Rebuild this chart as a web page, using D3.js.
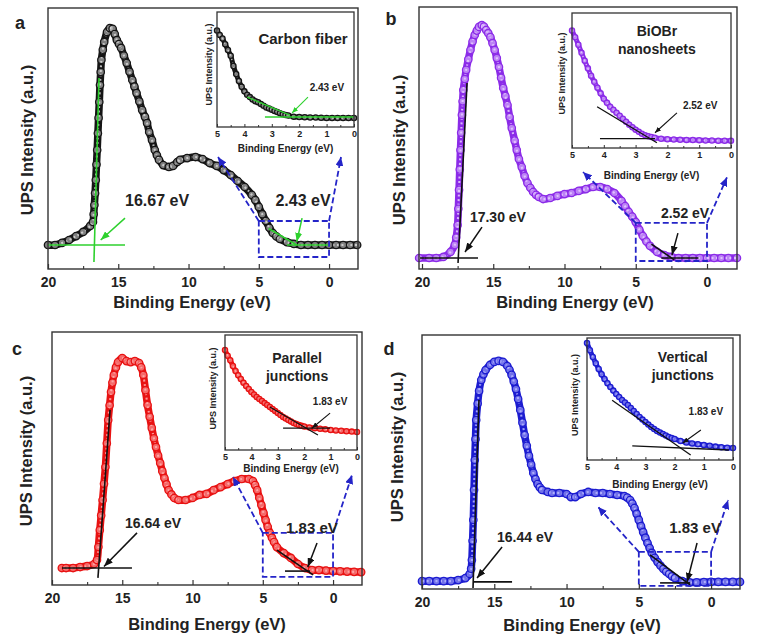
<!DOCTYPE html>
<html><head><meta charset="utf-8">
<script src="https://cdn.jsdelivr.net/npm/d3@7"></script>
<style>
body{margin:0;background:#fff}
text{font-family:"Liberation Sans",Arial,Helvetica,sans-serif;font-weight:bold;fill:#222}
</style>
</head><body>
<svg id="chart" width="774" height="637"></svg>
<script>
// ---------------- data (binding energy eV, intensity a.u.) ----------------
const panelLetters = ["a", "b", "c", "d"];
const insetTitles = [["Carbon fiber"], ["BiOBr", "nanosheets"], ["Parallel", "junctions"], ["Vertical", "junctions"]];
const cutoffLabels = ["16.67 eV", "17.30 eV", "16.64 eV", "16.44 eV"];
const onsetLabels = ["2.43 eV", "2.52 eV", "1.83 eV", "1.83 eV"];
const mainTicks = [20, 15, 10, 5, 0];
const mainMinorTicks = [17.5, 12.5, 7.5, 2.5];
const insetTicks = [5, 4, 3, 2, 1, 0];
const insetMinorTicks = [4.5, 3.5, 2.5, 1.5, 0.5];

const carbonMain = [[20,9.2],[19.5,9.2],[19,10],[18.5,11.1],[18,12.6],[17.5,14.2],[17,16.5],[16.8,18],[16.75,21],[16.7,24.5],[16.65,29],[16.6,34.1],[16.55,40],[16.5,45.6],[16.45,52],[16.4,57.9],[16.35,64],[16.3,70.5],[16.25,75.5],[16.2,80.1],[16.1,84],[16,87],[15.8,90.8],[15.6,92.3],[15.4,92],[15.25,90],[15.1,87.7],[14.95,86.2],[14.8,84.7],[14.6,81.8],[14.4,78.9],[14.2,75.6],[14,72.4],[13.85,69.9],[13.7,67.4],[13.5,64.2],[13.3,60.9],[13.1,58.3],[12.95,55.9],[12.8,52.5],[12.6,49.4],[12.4,45.6],[12.25,43.6],[12.1,41.8],[11.8,39.8],[11.4,39.1],[11.1,39.5],[10.8,41],[10.6,41.8],[10.1,42.5],[9.5,42.9],[9,42.1],[8.5,40.6],[8,39.5],[7.5,37.9],[7,36],[6.5,33.7],[6,31.4],[5.5,28.4],[5.25,26.4],[5,23.8],[4.75,21],[4.5,18.4],[4.25,15.8],[4,13.8],[3.75,12.5],[3.5,11.5],[3,10.3],[2.5,9.6],[2,9.2],[1.5,9.2],[1,9.2],[0.5,9.2],[0,9.2],[-0.5,9.2],[-1,9.2],[-1.5,9.2],[-2,9.2]];
const biobrMain = [[20.2,4.2],[19.5,4.2],[19,4.2],[18.5,4.6],[18,6.5],[17.7,9.2],[17.6,12],[17.5,16.8],[17.45,23],[17.4,30.2],[17.35,38],[17.3,45.4],[17.25,52],[17.2,58.8],[17.15,64],[17.1,68.3],[17,72.5],[16.9,76],[16.75,80],[16.6,83.6],[16.45,86.8],[16.3,89.3],[16.15,91],[16,92.4],[15.8,93.1],[15.65,92.5],[15.5,91.2],[15.35,90],[15.2,88.5],[15.05,86.2],[14.9,83.6],[14.75,80.5],[14.6,77.1],[14.45,73],[14.3,69.1],[14.15,66],[14,62.6],[13.85,58],[13.7,53.8],[13.5,49],[13.35,45.4],[13.2,42],[13,38.9],[12.8,35.5],[12.6,32.8],[12.4,31],[12.2,29.4],[12,28.3],[11.8,27.5],[11.5,26.7],[11,27.1],[10.5,27.9],[10,28.6],[9.5,29],[9,29.8],[8.5,30.5],[8,31.3],[7.5,31.3],[7,30.5],[6.5,29],[6,26],[5.75,24],[5.5,21.8],[5.25,20],[5,17.9],[4.75,15],[4.5,12.6],[4.25,10.5],[4,8.8],[3.5,6.5],[3,5.3],[2.5,4.6],[2,4.2],[1.5,4.2],[1,4.2],[0.5,4.2],[0,4.2],[-0.5,4.2],[-1,4.2],[-1.5,4.2],[-2.1,4.2]];
const parallelMain = [[19.3,6.7],[19,6.7],[18.5,6.7],[18,7.1],[17.5,7.5],[17,8.3],[16.8,9.9],[16.7,15],[16.6,21.7],[16.5,27.5],[16.4,33.6],[16.3,40],[16.2,46.6],[16.1,56],[16,65.2],[15.9,71],[15.8,76.3],[15.7,80],[15.6,83],[15.45,86],[15.3,88.1],[15,89.7],[14.7,88.5],[14.4,88.1],[14.1,88.5],[13.8,87.7],[13.65,86],[13.5,83],[13.35,77],[13.2,71.1],[13.05,66.5],[12.9,62.1],[12.75,58],[12.6,54.5],[12.45,51.2],[12.3,48.2],[12.15,45],[12,42.3],[11.85,39.8],[11.7,37.5],[11.5,35.8],[11.3,34.4],[11,33.6],[10.5,33.6],[10,34.4],[9.5,35.6],[9,36],[8.5,37.5],[8,38.7],[7.5,39.9],[7,41.1],[6.5,41.9],[6,41.9],[5.7,41.1],[5.55,39.5],[5.4,37.5],[5.25,34.5],[5.1,31.6],[4.95,28.5],[4.8,25.7],[4.65,23],[4.5,20.6],[4.35,18.7],[4.2,17],[4,15],[3.5,12.6],[3,10.7],[2.5,8.3],[2,6.7],[1.5,5.9],[1,5.9],[0.5,5.7],[0,5.5],[-0.5,5.4],[-1,5.3],[-1.5,5.2],[-2,5.1]];
const verticalMain = [[20,3.1],[19.5,3.1],[19,3.1],[18.5,3.1],[18,3.1],[17.5,3.5],[17,4.3],[16.7,5.9],[16.6,8],[16.55,11.4],[16.5,19],[16.45,27.2],[16.4,39],[16.35,50.8],[16.3,59],[16.25,66.5],[16.15,73],[16.05,78],[15.9,82.3],[15.75,84.5],[15.6,86.2],[15.3,88.2],[15,89.4],[14.7,89.8],[14.4,89.4],[14.1,87.8],[13.95,86.3],[13.8,84.3],[13.65,81.7],[13.5,78.7],[13.35,74.8],[13.2,70.5],[13.05,65.5],[12.9,60.6],[12.75,56.4],[12.6,52.4],[12.45,49],[12.3,45.7],[12.15,43.3],[12,41.3],[11.85,40],[11.7,39],[11.3,38.2],[11,37.8],[10.5,37.8],[10,37.4],[9.7,36.2],[9.4,36.2],[9,37.4],[8.5,38.2],[8,37.8],[7.5,37.8],[7,37.4],[6.5,37],[6,36.6],[5.8,36],[5.6,35],[5.45,33.6],[5.3,31.9],[5.15,29.6],[5,27.2],[4.85,24.8],[4.7,22.4],[4.55,20.2],[4.4,18.1],[4.25,16.1],[4.1,14.2],[3.9,12.3],[3.7,10.6],[3.5,9.2],[3.3,7.9],[3.1,6.8],[2.9,5.9],[2.7,5],[2.5,4.3],[2,3.1],[1.5,2.6],[1,2.6],[0.5,2.7],[0,2.8],[-0.5,2.8],[-1,2.8],[-1.5,2.8],[-2,2.8]];

const carbonInset = [[5,84],[4.9,80],[4.8,77],[4.7,72],[4.6,67],[4.5,62],[4.4,53],[4.3,46],[4.2,40],[4.1,35],[4,31],[3.9,28],[3.8,26],[3.7,24],[3.6,22.5],[3.5,21.5],[3.4,20],[3.3,18.5],[3.2,17],[3.1,16],[3,15],[2.9,14],[2.8,13],[2.7,12],[2.6,11],[2.5,10.5],[2.4,10],[2.2,9],[2,8.7],[1.8,8.5],[1.6,8.3],[1.4,8.2],[1.2,8],[1,7.8],[0.8,7.8],[0.6,7.8],[0.4,7.8],[0.2,7.8],[0,7.8]];
const biobrInset = [[5,87],[4.9,82],[4.8,76.5],[4.7,70.5],[4.6,64.7],[4.5,59],[4.4,53.6],[4.3,49],[4.2,44.7],[4.1,40.5],[4,36.5],[3.9,33.5],[3.8,30.6],[3.7,28.3],[3.6,26.1],[3.5,23.9],[3.4,21.7],[3.3,19.5],[3.2,17.3],[3.1,15.4],[3,13.6],[2.9,12],[2.8,10.6],[2.7,9.5],[2.6,8.7],[2.5,8.1],[2.4,7.6],[2.2,6.9],[2,6.5],[1.8,6.3],[1.6,6.1],[1.4,6],[1.2,5.9],[1,5.8],[0.8,5.6],[0.6,5.5],[0.4,5.4],[0.2,5.4],[0,5.4]];
const parallelInset = [[5,87],[4.9,82],[4.8,78],[4.7,73],[4.6,68.7],[4.5,65],[4.4,61.7],[4.3,58.5],[4.2,55.7],[4.1,53],[4,50.4],[3.9,48.2],[3.8,46.1],[3.7,44.3],[3.6,42.6],[3.5,40.8],[3.4,39.1],[3.3,37.4],[3.2,35.7],[3.1,34],[3,32.2],[2.9,30.4],[2.8,28.7],[2.7,27.4],[2.6,26.1],[2.5,24.8],[2.4,23.5],[2.3,22.6],[2.2,21.7],[2.1,21],[2,20.4],[1.8,19.6],[1.6,19],[1.4,18.5],[1.2,18],[1,17.4],[0.8,17],[0.6,16.7],[0.4,16.3],[0.2,16],[0,15.7]];
const verticalInset = [[5,95.9],[4.9,90],[4.8,84.4],[4.7,79.3],[4.6,74.6],[4.5,70.3],[4.4,66.4],[4.3,63],[4.2,59.8],[4.1,56.9],[4,54.1],[3.9,51.6],[3.8,49.2],[3.7,47.1],[3.6,45.1],[3.5,42.7],[3.4,40.2],[3.3,37.7],[3.2,35.2],[3.1,33.1],[3,31.1],[2.9,29],[2.8,27],[2.7,25.4],[2.6,23.8],[2.5,22.5],[2.4,21.3],[2.3,20.1],[2.2,18.9],[2.1,18],[2,17.2],[1.8,15.6],[1.6,14.4],[1.4,13.6],[1.2,12.9],[1,12.3],[0.8,11.7],[0.6,11],[0.4,10.5],[0.2,10.1],[0,9.8]];

// ---------------- layout / styling ----------------
const svg = d3.select("#chart");
const BLUE = "#2424c8";
const defs = svg.append("defs");
function marker(id, color, w, h) {
  defs.append("marker").attr("id", id).attr("markerUnits", "userSpaceOnUse")
    .attr("viewBox", `0 0 ${w} ${h}`).attr("refX", w).attr("refY", h / 2)
    .attr("markerWidth", w).attr("markerHeight", h).attr("orient", "auto")
    .append("path").attr("d", `M0,0L${w},${h/2}L0,${h}Z`).attr("fill", color);
}
marker("arGreen", "#2ed12e", 9, 7);
marker("arBlack", "#111", 9, 7);
marker("arBlue", BLUE, 9, 8);
marker("arGreenS", "#2ed12e", 6, 5);
marker("arBlackS", "#111", 6, 5);

const panels = [
  { main: carbonMain, inset: carbonInset, stroke: "#151515", fill: "#d8d8d8", tan: "#2ed12e", ar: "arGreen", arS: "arGreenS",
    f: {x0: 48, x1: 358, y0: 8, y1: 269}, xDom: [20, -2.06],
    fi: {x0: 217, x1: 354, y0: 12, y1: 127},
    letter: [20, 29], ytitle: [27, 140], xtitle: [192, 308], itx: 21, ity: [-8, -5],
    ann: {
      tanMain: [[16.37, 73.2], [16.73, 2.7]], horMain: [[20, 9.2], [14.52, 9.2]], arMain: [[14.52, 19.5], [16.25, 11.1]], labMain: [12.24, 24],
      tanOn: [[4.3, 15.5], [2.3, 9.2]], horOn: [[3.0, 9.2], [0, 9.2]], arOn: [[1.92, 19.5], [2.3, 10.4]], labOn: [1.85, 24],
      box: [[5, 18.4], [0, 4.6]], zoomTo: [[7.9, 42.9], [-0.85, 42.9]],
      tanIn: [[3.9, 26], [2.34, 10.4]], horIn: [[3.25, 8.7], [0, 8.7]], arIn: [[1.68, 26], [2.26, 12.2]], labIn: [0.99, 31],
      title: [1.86, 72]
    }, mainFont: 16, onFont: 16, titleFont: 15 },
  { main: biobrMain, inset: biobrInset, stroke: "#8b2be8", fill: "#e6ccff", tan: "#111", ar: "arBlack", arS: "arBlackS",
    f: {x0: 419, x1: 737, y0: 7, y1: 269}, xDom: [20.21, -2.105],
    fi: {x0: 572, x1: 731, y0: 13, y1: 148},
    letter: [391, 25], ytitle: [399, 150], xtitle: [575, 308], itx: 27, ity: [-10, -7],
    ann: {
      tanMain: [[16.84, 71], [17.47, 2.3]], horMain: [[20.14, 4.2], [16.07, 4.2]], arMain: [[15.79, 16], [16.98, 6.5]], labMain: [14.67, 18],
      tanOn: [[3.9, 9.5], [2.3, 3.5]], horOn: [[3.2, 4.2], [0.6, 4.2]], arOn: [[2.04, 13.7], [2.46, 5.3]], labOn: [1.54, 19.5],
      box: [[5, 17.6], [0, 3.05]], zoomTo: [[8.7, 37], [-1.4, 35]],
      tanIn: [[4.21, 30.6], [2.33, 3.9]], horIn: [[4.12, 6.9], [2.39, 6.9]], arIn: [[1.7, 26], [2.39, 11.3]], labIn: [0.97, 29],
      title: [2.33, 83]
    }, mainFont: 14, onFont: 14, titleFont: 14 },
  { main: parallelMain, inset: parallelInset, stroke: "#e81212", fill: "#ffb0b0", tan: "#111", ar: "arBlack", arS: "arBlackS",
    f: {x0: 52, x1: 362, y0: 332, y1: 585}, xDom: [20, -2.06],
    fi: {x0: 225, x1: 357, y0: 335, y1: 450},
    letter: [17, 355], ytitle: [26, 451], xtitle: [207, 630], itx: 18, ity: [-12, -4],
    ann: {
      tanMain: [[15.87, 69.2], [16.73, 2.8]], horMain: [[19.29, 6.7], [14.31, 6.7]], arMain: [[13.95, 20.6], [16.3, 7.3]], labMain: [12.81, 22.5],
      tanOn: [[3.99, 13.8], [1.42, 4.0]], horOn: [[3.42, 5.5], [1.64, 5.5]], arOn: [[1.14, 16.6], [1.8, 7.1]], labOn: [1.5, 20.5],
      box: [[5, 20.6], [0, 3.2]], zoomTo: [[7.12, 42.7], [-1.35, 43.5]],
      tanIn: [[3.3, 37.4], [1.48, 13]], horIn: [[2.8, 19.1], [1.02, 19.1]], arIn: [[1.02, 32], [1.7, 19.1]], labIn: [1.02, 39],
      title: [2.27, 76]
    }, mainFont: 14, onFont: 15, titleFont: 14 },
  { main: verticalMain, inset: verticalInset, stroke: "#1c1cd0", fill: "#b8b8ff", tan: "#111", ar: "arBlack", arS: "arBlackS",
    f: {x0: 422, x1: 740, y0: 335, y1: 589}, xDom: [20, -2.0],
    fi: {x0: 587, x1: 733, y0: 338, y1: 460},
    letter: [389, 355], ytitle: [397, 447], xtitle: [582, 631], itx: 24, ity: [-12, -4],
    ann: {
      tanMain: [[16.06, 74.4], [16.47, 0.4]], horMain: [[16.47, 2.8], [13.77, 2.8]], arMain: [[14.46, 16.5], [16.19, 4.3]], labMain: [12.87, 18.5],
      tanOn: [[4.22, 13.4], [1.45, 1.6]], horOn: [[3.53, 2.4], [1.45, 2.4]], arOn: [[0.97, 18.1], [1.66, 2.8]], labOn: [1.11, 22],
      box: [[5, 14.6], [0, 1.2]], zoomTo: [[7.82, 32.3], [-1.18, 35]],
      tanIn: [[4.14, 49], [1.45, 4.1]], horIn: [[3.45, 11.5], [0.14, 8.2]], arIn: [[1.1, 24.6], [1.72, 13.9]], labIn: [0.93, 36.5],
      title: [1.72, 80]
    }, mainFont: 14, onFont: 15, titleFont: 14 }
];

function seg(g, x, y, pts, color, width, opts = {}) {
  const l = g.append("line")
    .attr("x1", x(pts[0][0])).attr("y1", y(pts[0][1]))
    .attr("x2", x(pts[1][0])).attr("y2", y(pts[1][1]))
    .attr("stroke", color).attr("stroke-width", width);
  if (opts.dash) l.attr("stroke-dasharray", opts.dash);
  if (opts.marker) l.attr("marker-end", `url(#${opts.marker})`);
  return l;
}

function drawSeries(parent, x, y, data, p, r, bw) {
  const g = parent.append("g");
  const line = d3.line().x(d => x(d[0])).y(d => y(d[1])).curve(d3.curveCatmullRom);
  // dense band of overlapping open markers
  g.append("path").attr("d", line(data)).attr("fill", "none")
    .attr("stroke", p.stroke).attr("stroke-width", bw).attr("stroke-linejoin", "round").attr("stroke-linecap", "round");
  g.append("path").attr("d", line(data)).attr("fill", "none")
    .attr("stroke", p.fill).attr("stroke-width", bw * 0.28).attr("stroke-dasharray", "2,2.5").attr("opacity", 0.85);
  g.selectAll("circle").data(data).join("circle")
    .attr("cx", d => x(d[0])).attr("cy", d => y(d[1])).attr("r", r)
    .attr("fill", p.fill).attr("fill-opacity", 0.55)
    .attr("stroke", p.stroke).attr("stroke-width", 1.3);
}

panels.forEach((p, i) => {
  const g = svg.append("g");
  const a = p.ann;
  // ---------- main plot ----------
  const x = d3.scaleLinear().domain(p.xDom).range([p.f.x0, p.f.x1]);
  const y = d3.scaleLinear().domain([0, 100]).range([p.f.y1, p.f.y0]);

  drawSeries(g, x, y, p.main, p, 3.7, 7.5);

  // tangent construction lines
  seg(g, x, y, a.tanMain, p.tan, 1.6);
  seg(g, x, y, a.horMain, p.tan, 1.6);
  seg(g, x, y, a.tanOn, p.tan, 1.6);
  seg(g, x, y, a.horOn, p.tan, 1.6);
  seg(g, x, y, a.arMain, p.tan, 1.5, {marker: p.ar});
  seg(g, x, y, a.arOn, p.tan, 1.5, {marker: p.ar});

  // dashed zoom box + arrows
  const bx0 = x(a.box[0][0]), bx1 = x(a.box[1][0]), by0 = y(a.box[0][1]), by1 = y(a.box[1][1]);
  g.append("rect").attr("x", bx0).attr("y", by0).attr("width", bx1 - bx0).attr("height", by1 - by0)
    .attr("fill", "none").attr("stroke", BLUE).attr("stroke-width", 1.8).attr("stroke-dasharray", "6,3");
  seg(g, x, y, [[a.box[0][0], a.box[0][1]], a.zoomTo[0]], BLUE, 1.8, {dash: "6,3", marker: "arBlue"});
  seg(g, x, y, [[a.box[1][0], a.box[0][1]], a.zoomTo[1]], BLUE, 1.8, {dash: "6,3", marker: "arBlue"});

  g.append("text").attr("x", x(a.labMain[0])).attr("y", y(a.labMain[1])).attr("text-anchor", "middle")
    .attr("font-size", p.mainFont).text(cutoffLabels[i]);
  g.append("text").attr("x", x(a.labOn[0])).attr("y", y(a.labOn[1])).attr("text-anchor", "middle")
    .attr("font-size", p.onFont).text(onsetLabels[i]);

  // frame & axis
  g.append("rect").attr("x", p.f.x0).attr("y", p.f.y0).attr("width", p.f.x1 - p.f.x0).attr("height", p.f.y1 - p.f.y0)
    .attr("fill", "none").attr("stroke", "#333").attr("stroke-width", 1.4);
  const ax = g.append("g").attr("transform", `translate(0,${p.f.y1})`)
    .call(d3.axisBottom(x).tickValues(mainTicks).tickSizeInner(-5).tickSizeOuter(0).tickPadding(8).tickFormat(d3.format("d")));
  ax.select(".domain").remove();
  ax.selectAll("text").attr("font-size", 14).attr("fill", "#222").attr("font-family", null);
  ax.selectAll("line").attr("stroke", "#333").attr("stroke-width", 1.2);
  const axm = g.append("g").attr("transform", `translate(0,${p.f.y1})`)
    .call(d3.axisBottom(x).tickValues(mainMinorTicks).tickSizeInner(-3).tickSizeOuter(0).tickFormat(""));
  axm.select(".domain").remove();
  axm.selectAll("line").attr("stroke", "#333").attr("stroke-width", 1.1);

  g.append("text").attr("x", p.xtitle[0]).attr("y", p.xtitle[1]).attr("text-anchor", "middle")
    .attr("font-size", 16.5).text("Binding Energy (eV)");
  g.append("text").attr("transform", `translate(${p.ytitle[0] + 6},${p.ytitle[1]}) rotate(-90)`)
    .attr("text-anchor", "middle").attr("font-size", 16.5).text("UPS Intensity (a.u.)");
  g.append("text").attr("x", p.letter[0]).attr("y", p.letter[1]).attr("text-anchor", "middle")
    .attr("font-size", 18).text(panelLetters[i]);

  // ---------- inset ----------
  const xi = d3.scaleLinear().domain([5, 0]).range([p.fi.x0, p.fi.x1]);
  const yi = d3.scaleLinear().domain([0, 100]).range([p.fi.y1, p.fi.y0]);
  g.append("rect").attr("x", p.fi.x0).attr("y", p.fi.y0).attr("width", p.fi.x1 - p.fi.x0).attr("height", p.fi.y1 - p.fi.y0)
    .attr("fill", "#fff");
  drawSeries(g, xi, yi, p.inset, p, 2.6, 5);
  seg(g, xi, yi, a.tanIn, p.tan, 1.3);
  seg(g, xi, yi, a.horIn, p.tan, 1.3);
  seg(g, xi, yi, a.arIn, p.tan, 1.1, {marker: p.arS});
  g.append("text").attr("x", xi(a.labIn[0])).attr("y", yi(a.labIn[1])).attr("text-anchor", "middle")
    .attr("font-size", 10).text(onsetLabels[i]);
  insetTitles[i].forEach((t, k) => {
    g.append("text").attr("x", xi(a.title[0])).attr("y", yi(a.title[1]) + k * 18).attr("text-anchor", "middle")
      .attr("font-size", p.titleFont).text(t);
  });
  g.append("rect").attr("x", p.fi.x0).attr("y", p.fi.y0).attr("width", p.fi.x1 - p.fi.x0).attr("height", p.fi.y1 - p.fi.y0)
    .attr("fill", "none").attr("stroke", "#333").attr("stroke-width", 1.3);
  const axi = g.append("g").attr("transform", `translate(0,${p.fi.y1})`)
    .call(d3.axisBottom(xi).tickValues(insetTicks).tickSizeInner(-3).tickSizeOuter(0).tickPadding(4).tickFormat(d3.format("d")));
  axi.select(".domain").remove();
  axi.selectAll("text").attr("font-size", 9).attr("fill", "#222").attr("font-family", null);
  axi.selectAll("line").attr("stroke", "#333");
  const axim = g.append("g").attr("transform", `translate(0,${p.fi.y1})`)
    .call(d3.axisBottom(xi).tickValues(insetMinorTicks).tickSizeInner(-2).tickSizeOuter(0).tickFormat(""));
  axim.select(".domain").remove();
  axim.selectAll("line").attr("stroke", "#333");
  g.append("text").attr("x", (p.fi.x0 + p.fi.x1) / 2).attr("y", p.fi.y1 + p.itx + 4).attr("text-anchor", "middle")
    .attr("font-size", 10).text("Binding Energy (eV)");
  g.append("text").attr("transform", `translate(${p.fi.x0 + p.ity[0] + 3},${(p.fi.y0 + p.fi.y1) / 2 + p.ity[1]}) rotate(-90)`)
    .attr("text-anchor", "middle").attr("font-size", 9).text("UPS Intensity (a.u.)");
});
</script>
</body></html>
